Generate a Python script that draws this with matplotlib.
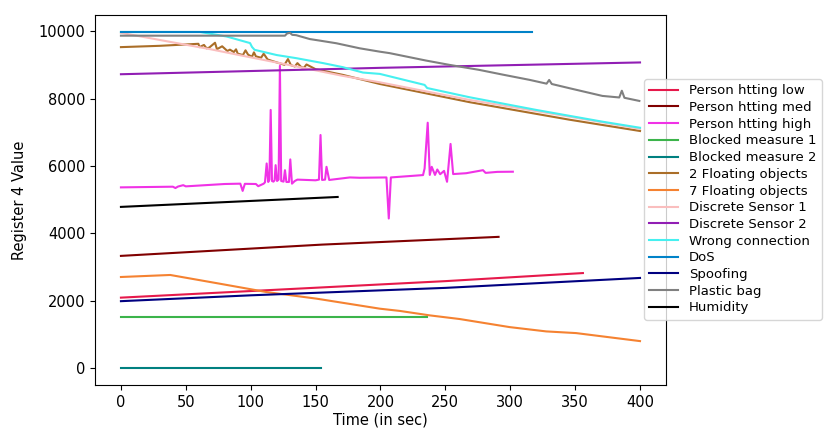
import matplotlib
matplotlib.use('Agg')
import matplotlib.pyplot as plt

# valores (tiempo en s, valor del registro 4)
low_t = [0, 120, 250, 356]
low_v = [2095, 2330, 2585, 2825]

med_t = [0, 155, 291]
med_v = [3335, 3670, 3900]

high_t = [0, 40, 42, 44, 48, 50, 80, 92, 93.8, 95.5, 104, 105.8, 110, 111, 112.3, 113.5, 114.4, 115.4, 116.4,
          117.5, 118.4, 119.2, 120.3, 121.5, 122.5, 123.5, 125.3, 126.4, 127.5, 129.5, 130.5, 131.8, 134,
          136, 150, 152.6, 153.8, 155, 157.3, 158.4, 160.5, 176.4, 184, 204.6, 206.4, 208, 232.8, 234,
          236.4, 238, 239.5, 242, 243.8, 246, 249, 251.3, 254, 256, 266, 279, 281, 290, 302]
high_v = [5370, 5390, 5350, 5395, 5435, 5400, 5470, 5480, 5265, 5475, 5470, 5405, 5480, 5520, 6080, 5530, 5600,
          7670, 5560, 5540, 5580, 6030, 5560, 5600, 8980, 5560, 5540, 5880, 5530, 5530, 6200, 5480, 5560,
          5600, 5580, 5600, 6925, 5590, 5600, 5980, 5590, 5665, 5655, 5665, 4445, 5665, 5735, 5930,
          7290, 5740, 5980, 5740, 5900, 5760, 5860, 5535, 6660, 5765, 5790, 5880, 5800, 5830, 5835]

blk1_t = [0, 236]
blk1_v = [1530, 1530]

blk2_t = [0, 154]
blk2_v = [0, 0]

flo2_t = [0, 30, 59.7, 60.5, 64, 66, 68, 72.5, 74, 78, 82, 84, 87, 88.7, 90, 94, 96, 98, 101, 102.5, 104,
          108, 110, 113, 116, 126, 128.7, 131, 134, 136, 139, 141, 143, 150, 171, 199.5, 268.7, 345.6, 400]
flo2_v = [9535, 9574, 9634, 9535, 9600, 9500, 9520, 9665, 9474, 9560, 9420, 9460, 9390, 9470, 9340, 9300,
          9440, 9310, 9250, 9380, 9260, 9220, 9340, 9170, 9130, 9010, 9180, 9000, 8960, 9060, 8940, 8920,
          9020, 8880, 8711, 8440, 7900, 7380, 7044]

flo7_t = [0, 38, 76, 112, 150.7, 199.5, 215, 238, 261, 299.5, 327.7, 350.8, 400]
flo7_v = [2708, 2768, 2510, 2262, 2065, 1767, 1700, 1568, 1460, 1220, 1092, 1042, 804]

ds1_t = [0, 43, 68.7, 94, 120, 145.6, 171, 199.5, 268.7, 345.6, 400]
ds1_v = [9960, 9655, 9475, 9277, 9078, 8880, 8681, 8490, 7967, 7470, 7110]

ds2_t = [0, 200, 400]
ds2_v = [8730, 8920, 9080]

wrong_t = [0, 61, 81.5, 99.5, 101, 103, 120, 135, 155.8, 171, 186.5, 199.5, 234, 236, 268.7, 320, 371, 400]
wrong_v = [9985, 9985, 9850, 9655, 9540, 9455, 9300, 9208, 9060, 8940, 8780, 8740, 8413, 8320, 8046, 7670,
           7321, 7140]

dos_t = [0, 317]
dos_v = [9990, 9990]

spoof_t = [0, 100, 250, 400]
spoof_v = [1990, 2164, 2385, 2680]

bag_t = [0, 126.4, 128, 130.2, 132, 135, 145.6, 153, 166, 184, 199.5, 207, 235, 253, 276, 294, 315, 328,
         330, 332, 345.6, 371, 384, 386, 388, 399.5]
bag_v = [9875, 9875, 9940, 9960, 9900, 9890, 9774, 9730, 9650, 9500, 9400, 9357, 9137, 9009, 8860, 8720,
         8562, 8450, 8560, 8440, 8315, 8086, 8040, 8240, 8030, 7937]

hum_t = [0, 167]
hum_v = [4790, 5085]

series = [
    (low_t, low_v, 'Person htting low', '#e6194b'),
    (med_t, med_v, 'Person htting med', '#800000'),
    (high_t, high_v, 'Person htting high', '#f032e6'),
    (blk1_t, blk1_v, 'Blocked measure 1', '#3cb44b'),
    (blk2_t, blk2_v, 'Blocked measure 2', '#008080'),
    (flo2_t, flo2_v, '2 Floating objects', '#aa6e28'),
    (flo7_t, flo7_v, '7 Floating objects', '#f58231'),
    (ds1_t, ds1_v, 'Discrete Sensor 1', '#fabebe'),
    (ds2_t, ds2_v, 'Discrete Sensor 2', '#911eb4'),
    (wrong_t, wrong_v, 'Wrong connection', '#46f0f0'),
    (dos_t, dos_v, 'DoS', '#0082c8'),
    (spoof_t, spoof_v, 'Spoofing', '#000080'),
    (bag_t, bag_v, 'Plastic bag', '#808080'),
    (hum_t, hum_v, 'Humidity', '#000000'),
]

fig = plt.figure(figsize=(8.31, 4.37), dpi=100)
ax = fig.add_axes([0.1143, 0.119, 0.6871, 0.8467])

for t, v, nombre, color in series:
    ax.plot(t, v, label=nombre, color=color, linewidth=1.5)

ax.set_xticks([0, 50, 100, 150, 200, 250, 300, 350, 400])
ax.set_yticks([0, 2000, 4000, 6000, 8000, 10000])
ax.tick_params(labelsize=10.5)
ax.set_xlabel('Time (in sec)', fontsize=10.5, labelpad=2)
ax.set_ylabel('Register 4 Value', fontsize=10.5, labelpad=8)

fig.legend(loc='upper left', bbox_to_anchor=(0.775, 0.819), bbox_transform=fig.transFigure,
           borderaxespad=0, fontsize=9.5, labelspacing=0.28, handlelength=2.2)

plt.savefig('out.png', dpi=100)
